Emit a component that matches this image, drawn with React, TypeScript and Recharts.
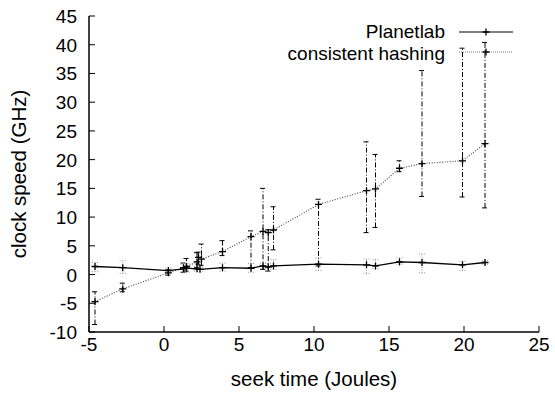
import { ComposedChart, ErrorBar, Label, Legend, Line, XAxis, YAxis } from "recharts";

// Planetlab
const planetX = [-4.6, -2.75, 0.29, 1.3, 1.5, 2.2, 2.4, 3.9, 5.8, 6.6, 6.95, 7.3, 10.3, 13.5, 14.1, 15.7, 17.2, 19.9, 21.4];
const planetY = [1.4, 1.2, 0.7, 1.0, 1.1, 1.0, 0.9, 1.2, 1.1, 1.5, 1.3, 1.5, 1.8, 1.7, 1.5, 2.2, 2.1, 1.7, 2.1];
const planetLow = [0.5, 0.2, 0.3, 0.3, 0.4, 0.6, 0.5, 0.6, 0.4, 1.0, 0.6, 0.9, 0.7, 0.2, 1.0, 1.8, 0.3, 0.7, 1.8];
const planetHigh = [2.1, 2.4, 1.1, 1.8, 1.9, 1.4, 1.3, 2.0, 1.9, 2.0, 2.0, 2.6, 2.9, 2.7, 2.6, 2.9, 3.6, 2.3, 2.4];

// consistent hashing
const hashX = [-4.6, -2.75, 0.29, 1.3, 1.5, 2.2, 2.3, 2.5, 3.9, 5.8, 6.6, 6.95, 7.3, 10.3, 13.5, 14.1, 15.7, 17.2, 19.9, 21.4];
const hashY = [-4.7, -2.5, 0.3, 1.2, 1.4, 2.2, 3.0, 2.7, 4.0, 6.6, 7.5, 7.3, 7.75, 12.2, 14.6, 14.9, 18.5, 19.3, 19.8, 22.8];
const hashLow = [-8.7, -3.0, -0.1, 0.4, 0.6, 1.2, 1.8, 1.6, 3.3, 1.2, 0.9, 0.6, 4.3, 1.5, 7.3, 8.2, 17.9, 13.6, 13.5, 11.6];
const hashHigh = [-3.0, -1.5, 0.8, 2.0, 2.8, 3.8, 3.9, 5.3, 5.9, 7.6, 15.0, 7.8, 11.8, 13.1, 23.1, 20.9, 19.8, 35.5, 39.4, 40.4];

const xTicks = [-5, 0, 5, 10, 15, 20, 25];
const yTicks = [-10, -5, 0, 5, 10, 15, 20, 25, 30, 35, 40, 45];

const FONT = '"Liberation Sans", Arial, Helvetica, sans-serif';
const TICK_LEN = 6;
const TICK_FONT = 19;
const LABEL_FONT = 20.5;
const KEY_FONT = 19;

const toRows = (xs: number[], ys: number[], lo: number[], hi: number[]) =>
  xs.map((x, i) => ({ x, y: ys[i], err: [ys[i] - lo[i], hi[i] - ys[i]] }));

const planetRows = toRows(planetX, planetY, planetLow, planetHigh);
const hashRows = toRows(hashX, hashY, hashLow, hashHigh);

const PlusDot = (props: any) => {
  const { cx, cy, index } = props;
  if (cx == null || cy == null) return null;
  return (
    <path
      key={`p-${index}`}
      d={`M${cx - 3.5},${cy}H${cx + 3.5}M${cx},${cy - 3.5}V${cy + 3.5}`}
      stroke="#000"
      strokeWidth={1.3}
      fill="none"
    />
  );
};

const BottomTick = (props: any) => {
  const { x, y, payload } = props;
  return (
    <g>
      <line x1={x} y1={y} x2={x} y2={y - TICK_LEN} stroke="#000" />
      <text x={x} y={y + 19} textAnchor="middle" fontSize={TICK_FONT} fontFamily={FONT} fill="#000">
        {payload.value}
      </text>
    </g>
  );
};

const TopTick = (props: any) => {
  const { x, y } = props;
  return <line x1={x} y1={y} x2={x} y2={y + TICK_LEN} stroke="#000" />;
};

const LeftTick = (props: any) => {
  const { x, y, payload } = props;
  return (
    <g>
      <line x1={x} y1={y} x2={x + TICK_LEN} y2={y} stroke="#000" />
      <text x={x - 12} y={y + 7} textAnchor="end" fontSize={TICK_FONT} fontFamily={FONT} fill="#000">
        {payload.value}
      </text>
    </g>
  );
};

const RightTick = (props: any) => {
  const { x, y } = props;
  return <line x1={x} y1={y} x2={x - TICK_LEN} y2={y} stroke="#000" />;
};

const KeyBox = () => (
  <svg width={555} height={70} style={{ display: "block" }}>
    <text x={445} y={38} textAnchor="end" fontSize={KEY_FONT} fontFamily={FONT} fill="#000">
      Planetlab
    </text>
    <line x1={459} y1={32} x2={513} y2={32} stroke="#000" strokeWidth={1.2} />
    <PlusDot cx={486} cy={32} index={0} />
    <text x={445} y={60} textAnchor="end" fontSize={KEY_FONT} fontFamily={FONT} fill="#000">
      consistent hashing
    </text>
    <line x1={459} y1={52} x2={513} y2={52} stroke="#777" strokeWidth={1.2} strokeDasharray="1 1" />
    <PlusDot cx={486} cy={52} index={1} />
  </svg>
);

export default function App() {
  return (
    <div style={{ position: "absolute", left: 0, top: 0, width: 555, height: 394, background: "#fff" }}>
      <ComposedChart width={555} height={394} margin={{ top: 16, right: 16, bottom: 0, left: 0 }}>
        <XAxis
          dataKey="x"
          type="number"
          domain={[-5, 25]}
          ticks={xTicks}
          height={62}
          allowDuplicatedCategory={false}
          axisLine={{ stroke: "#000", strokeWidth: 1.5 }}
          tickLine={false}
          tickSize={0}
          tickMargin={0}
          tick={<BottomTick />}
          interval={0}
        >
          <Label
            content={() => (
              <text x={314} y={386} textAnchor="middle" fontSize={LABEL_FONT} fontFamily={FONT} fill="#000">
                seek time (Joules)
              </text>
            )}
          />
        </XAxis>
        <XAxis
          xAxisId="top"
          orientation="top"
          type="number"
          domain={[-5, 25]}
          ticks={xTicks}
          height={0}
          axisLine={{ stroke: "#000", strokeWidth: 1.5 }}
          tickLine={false}
          tickSize={0}
          tickMargin={0}
          tick={<TopTick />}
          interval={0}
        />
        <YAxis
          type="number"
          domain={[-10, 45]}
          ticks={yTicks}
          width={89}
          axisLine={{ stroke: "#000", strokeWidth: 1.5 }}
          tickLine={false}
          tickSize={0}
          tickMargin={0}
          tick={<LeftTick />}
          interval={0}
        >
          <Label
            content={() => (
              <text
                x={26}
                y={174}
                transform="rotate(-90 26 174)"
                textAnchor="middle"
                fontSize={LABEL_FONT}
                fontFamily={FONT}
                fill="#000"
              >
                clock speed (GHz)
              </text>
            )}
          />
        </YAxis>
        <YAxis
          yAxisId="right"
          orientation="right"
          type="number"
          domain={[-10, 45]}
          ticks={yTicks}
          width={0}
          axisLine={{ stroke: "#000", strokeWidth: 1.5 }}
          tickLine={false}
          tickSize={0}
          tickMargin={0}
          tick={<RightTick />}
          interval={0}
        />
        <Legend
          layout="vertical"
          align="center"
          verticalAlign="middle"
          wrapperStyle={{ left: 0, top: 0, width: 555, height: 70, pointerEvents: "none" }}
          content={() => <KeyBox />}
        />
        <Line
          data={hashRows}
          dataKey="y"
          name="consistent hashing"
          stroke="#444"
          strokeWidth={1.1}
          strokeDasharray="1 1.6"
          dot={<PlusDot />}
          activeDot={false}
          isAnimationActive={false}
        >
          <ErrorBar dataKey="err" direction="y" width={3} stroke="#000" strokeWidth={1} strokeDasharray="5 2 1 2" />
        </Line>
        <Line
          data={planetRows}
          dataKey="y"
          name="Planetlab"
          stroke="#000"
          strokeWidth={1.3}
          dot={<PlusDot />}
          activeDot={false}
          isAnimationActive={false}
        >
          <ErrorBar dataKey="err" direction="y" width={3} stroke="#999" strokeWidth={1} strokeDasharray="1 1.5" />
        </Line>
      </ComposedChart>
    </div>
  );
}
